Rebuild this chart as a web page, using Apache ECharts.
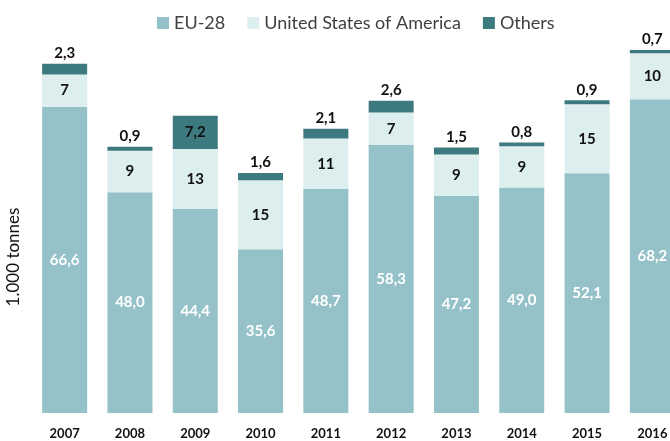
<!DOCTYPE html>
<html>
<head>
<meta charset="utf-8">
<script src="https://cdn.jsdelivr.net/npm/echarts@6/dist/echarts.min.js"></script>
<style>
  html, body { margin: 0; padding: 0; background: #fff; }
  #chart { width: 670px; height: 441px; }
</style>
</head>
<body>
<div id="chart"></div>
<script>
const years = ['2007', '2008', '2009', '2010', '2011', '2012', '2013', '2014', '2015', '2016']
const eu28 = [66.6, 48.0, 44.4, 35.6, 48.7, 58.3, 47.2, 49.0, 52.1, 68.2]
const usa = [7, 9, 13, 15, 11, 7, 9, 9, 15, 10]
const others = [2.3, 0.9, 7.2, 1.6, 2.1, 2.6, 1.5, 0.8, 0.9, 0.7]

const fmt = v => v.toFixed(1).replace('.', ',')
const font = 'Lato, "Open Sans", sans-serif'

const chart = echarts.init(document.getElementById('chart'))
chart.setOption({
  animation: false,
  textStyle: { fontFamily: font },
  legend: {
    left: 152,
    top: 9,
    itemWidth: 12,
    itemHeight: 12,
    itemGap: 22,
    icon: 'rect',
    textStyle: { fontSize: 18, color: '#404040', fontFamily: font },
    data: ['EU-28', 'United States of America', 'Others']
  },
  grid: {
    left: 32,
    width: 653,
    top: 45,
    bottom: 28,
    outerBoundsMode: 'none'
  },
  xAxis: {
    type: 'category',
    data: years,
    axisLine: { show: false },
    axisTick: { show: false },
    axisLabel: { color: '#111', fontWeight: 'bold', fontSize: 13, margin: 14 }
  },
  yAxis: {
    type: 'value',
    min: 0,
    max: 80,
    name: '1.000 tonnes',
    nameLocation: 'middle',
    nameGap: 10,
    nameTextStyle: { fontSize: 17, color: '#111', padding: [0, 56, 0, 0] },
    axisLabel: { show: false },
    axisLine: { show: false },
    axisTick: { show: false },
    splitLine: { show: false }
  },
  series: [{
    name: 'EU-28',
    type: 'bar',
    stack: 'total',
    barWidth: 45,
    itemStyle: { color: '#94c2c8' },
    label: {
      show: true,
      position: 'inside',
      color: '#fff',
      fontWeight: 'bold',
      fontSize: 15,
      formatter: p => fmt(p.value)
    },
    data: eu28
  }, {
    name: 'United States of America',
    type: 'bar',
    stack: 'total',
    itemStyle: { color: '#ddeeee' },
    label: {
      show: true,
      position: 'inside',
      color: '#111',
      fontWeight: 'bold',
      fontSize: 15
    },
    data: usa
  }, {
    name: 'Others',
    type: 'bar',
    stack: 'total',
    itemStyle: { color: '#3d7a7f' },
    label: {
      show: true,
      position: 'top',
      distance: 3,
      color: '#111',
      fontWeight: 'bold',
      fontSize: 15,
      formatter: p => fmt(p.value)
    },
    data: others.map(v => v > 5 ? { value: v, label: { position: 'inside' } } : v)
  }]
})
</script>
</body>
</html>
